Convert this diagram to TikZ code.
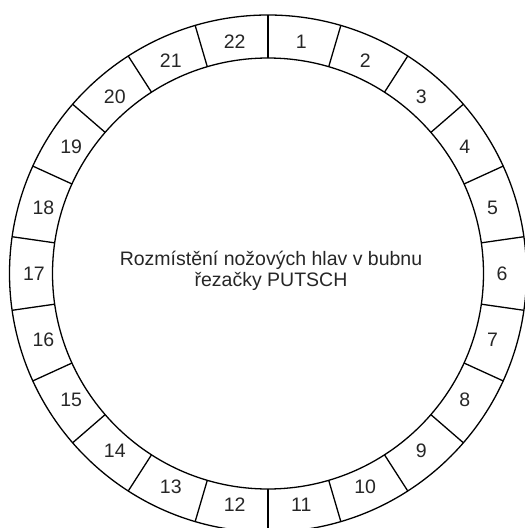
\documentclass[tikz,border=0pt]{standalone}
\usepackage{fontspec}
\setmainfont{Liberation Sans}
\usetikzlibrary{calc}
\begin{document}
\begin{tikzpicture}[x=1pt,y=1pt,
  ring/.style={line width=1.3pt,black},
  divider/.style={line width=1.3pt,black},
  lbl/.style={font=\fontsize{19.5}{22}\selectfont,text=black!85}]
\useasboundingbox (0,0) rectangle (525,-528);
\clip (0,0) rectangle (525,-528);
\coordinate (c) at (268,-273.5);
\draw[ring] (c) circle[radius=258.5];
\draw[ring] (c) circle[radius=215.5];
\foreach \k in {0,...,21}{
  \pgfmathsetmacro{\a}{90-\k*360/22}
  \draw[divider] ($(c)+(\a:215.5)$) -- ($(c)+(\a:258.5)$);
}
\foreach \k in {1,...,22}{
  \pgfmathsetmacro{\a}{90-(\k-0.5)*360/22}
  \node[lbl] (n\k) at ($(c)+(\a:234)$) {\k};
}
\node[lbl,align=center,font=\fontsize{19.5}{21}\selectfont] (title) at (271,-271)
  {Rozmístění nožových hlav v bubnu\\řezačky PUTSCH};
\end{tikzpicture}
\end{document}
